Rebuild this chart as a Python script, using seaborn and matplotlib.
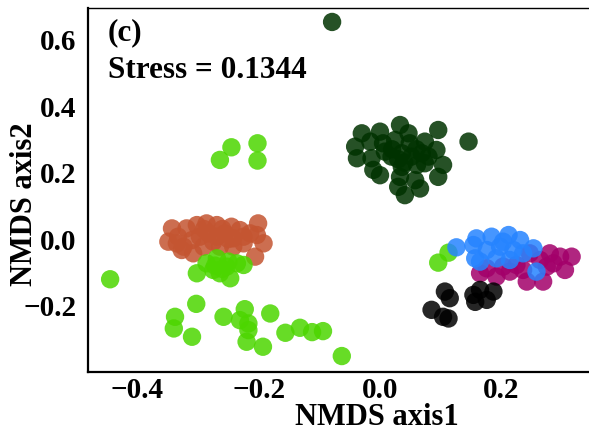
import numpy as np
import pandas as pd
import matplotlib
matplotlib.use("Agg")
import matplotlib.pyplot as plt
import seaborn as sns

# ---- data (NMDS scores) ----
orange_x = [-0.343, -0.319, -0.302, -0.286, -0.269, -0.245, -0.231, -0.201, -0.349, -0.333,
            -0.324, -0.310, -0.297, -0.283, -0.269, -0.256, -0.242, -0.225, -0.214, -0.203,
            -0.192, -0.327, -0.308, -0.291, -0.264, -0.242, -0.225, -0.206, -0.335, -0.275,
            -0.260, -0.290, -0.250]
orange_y = [0.032, 0.032, 0.042, 0.047, 0.042, 0.037, 0.027, 0.047, -0.008, 0.007,
            -0.023, -0.003, 0.007, 0.017, 0.007, 0.017, 0.002, 0.007, 0.017, 0.012,
            -0.013, -0.033, -0.043, -0.023, -0.023, -0.023, -0.013, -0.053, -0.013, -0.008,
            0.030, 0.030, 0.000]

lime_x = [-0.264, -0.245, -0.202, -0.202, -0.445, -0.302, -0.286, -0.269, -0.264, -0.247,
          -0.236, -0.225, -0.275, -0.253, -0.303, -0.338, -0.340, -0.310, -0.258, -0.223,
          -0.231, -0.217, -0.217, -0.220, -0.193, -0.181, -0.156, -0.132, -0.112, -0.094,
          -0.063, 0.096, 0.113, -0.260, -0.250, -0.272]
lime_y = [0.238, 0.276, 0.288, 0.236, -0.121, -0.103, -0.073, -0.058, -0.103, -0.118,
          -0.073, -0.078, -0.093, -0.083, -0.195, -0.234, -0.269, -0.294, -0.234, -0.211,
          -0.244, -0.254, -0.274, -0.309, -0.324, -0.224, -0.282, -0.267, -0.280, -0.277,
          -0.352, -0.071, -0.041, -0.090, -0.068, -0.080]

dkgreen_x = [-0.030, 0.000, 0.033, 0.047, 0.096, -0.041, -0.016, 0.005, 0.025, 0.049,
             0.074, 0.093, -0.038, -0.014, 0.008, 0.019, 0.036, 0.052, 0.069, 0.080,
             -0.011, 0.000, 0.036, 0.061, 0.074, 0.104, 0.096, 0.033, 0.058, 0.030,
             0.066, 0.041, 0.146, -0.079, 0.020, 0.040, 0.060, 0.030]
dkgreen_y = [0.318, 0.323, 0.343, 0.318, 0.328, 0.278, 0.293, 0.288, 0.298, 0.288,
             0.293, 0.268, 0.243, 0.243, 0.263, 0.248, 0.258, 0.248, 0.258, 0.248,
             0.208, 0.192, 0.217, 0.223, 0.228, 0.223, 0.187, 0.187, 0.177, 0.157,
             0.152, 0.132, 0.293, 0.653, 0.270, 0.230, 0.270, 0.240]

magenta_x = [0.165, 0.192, 0.214, 0.236, 0.242, 0.269, 0.247, 0.264, 0.280, 0.297,
             0.316, 0.305, 0.275, 0.176, 0.203, 0.225, 0.286]
magenta_y = [-0.103, -0.113, -0.098, -0.093, -0.128, -0.128, -0.043, -0.063, -0.043, -0.053,
             -0.053, -0.093, -0.083, -0.088, -0.083, -0.078, -0.073]

blue_x = [0.126, 0.159, 0.184, 0.212, 0.231, 0.253, 0.157, 0.176, 0.198, 0.220,
          0.236, 0.165, 0.192, 0.214, 0.258, 0.154, 0.203]
blue_y = [-0.025, 0.002, 0.007, 0.012, -0.003, -0.028, -0.058, -0.033, -0.023, -0.033,
          -0.043, -0.068, -0.058, -0.063, -0.098, -0.018, -0.008]

black_x = [0.107, 0.115, 0.085, 0.104, 0.113, 0.154, 0.165, 0.176, 0.187, 0.157]
black_y = [-0.158, -0.178, -0.213, -0.234, -0.239, -0.168, -0.153, -0.183, -0.158, -0.189]

groups = ["G1", "G2", "G3", "G4", "G5", "G6"]
colors = ["#C45531", "#4CD600", "#003200", "#A3006A", "#2684FF", "#000000"]
xs = [orange_x, lime_x, dkgreen_x, magenta_x, blue_x, black_x]
ys = [orange_y, lime_y, dkgreen_y, magenta_y, blue_y, black_y]

xticks = [-0.4, -0.2, 0.0, 0.2]
yticks = [-0.2, 0.0, 0.2, 0.4, 0.6]
stress_text = "Stress = 0.1344"
panel_tag = "(c)"

df = pd.concat([pd.DataFrame({"NMDS1": x, "NMDS2": y, "group": g})
                for x, y, g in zip(xs, ys, groups)], ignore_index=True)

# ---- plot ----
sns.set_style("white")
plt.rcParams["font.family"] = ["Liberation Serif", "DejaVu Serif"]
plt.rcParams["font.weight"] = "bold"
plt.rcParams["axes.labelweight"] = "bold"
plt.rcParams["text.color"] = "black"
plt.rcParams["axes.labelcolor"] = "black"

fig = plt.figure(figsize=(5.89, 4.32), dpi=100)
ax = fig.add_axes([88 / 589, 60 / 432, 578 / 589, 364 / 432])

sns.scatterplot(data=df, x="NMDS1", y="NMDS2", hue="group",
                palette=dict(zip(groups, colors)), s=175, alpha=0.85,
                linewidth=0, legend=False, ax=ax)

ax.set_xlim(-0.4815, 0.4716)
ax.set_ylim(-0.400, 0.695)
ax.set_xticks(xticks)
ax.set_yticks(yticks)
ax.set_xticklabels([f"{t:.1f}".replace("-", "\u2212") for t in xticks])
ax.set_yticklabels([f"{t:.1f}".replace("-", "\u2212") for t in yticks])
ax.tick_params(axis="both", direction="out", length=3, width=1.3,
               labelsize=21, color="black", labelcolor="black")
ax.tick_params(axis="x", pad=0.5)
ax.tick_params(axis="y", pad=5.5)
for lab in ax.get_xticklabels() + ax.get_yticklabels():
    lab.set_fontweight("bold")

ax.set_xlabel("NMDS axis1", fontsize=22, fontweight="bold", color="black")
ax.set_ylabel("NMDS axis2", fontsize=22, fontweight="bold", color="black")
ax.xaxis.set_label_coords(0.5, -0.085)
ax.yaxis.set_label_coords(-0.085, 0.46)

for side in ["left", "bottom"]:
    ax.spines[side].set_linewidth(1.6)
    ax.spines[side].set_color("black")
ax.spines["top"].set_linewidth(1.0)
ax.spines["top"].set_color("black")
ax.spines["right"].set_visible(False)

ax.text(0.034, 0.912, panel_tag, transform=ax.transAxes, fontsize=22.5,
        fontweight="bold", va="baseline", ha="left", color="black")
ax.text(0.034, 0.808, stress_text, transform=ax.transAxes, fontsize=22.5,
        fontweight="bold", va="baseline", ha="left", color="black")

fig.savefig("out.png", dpi=100)
